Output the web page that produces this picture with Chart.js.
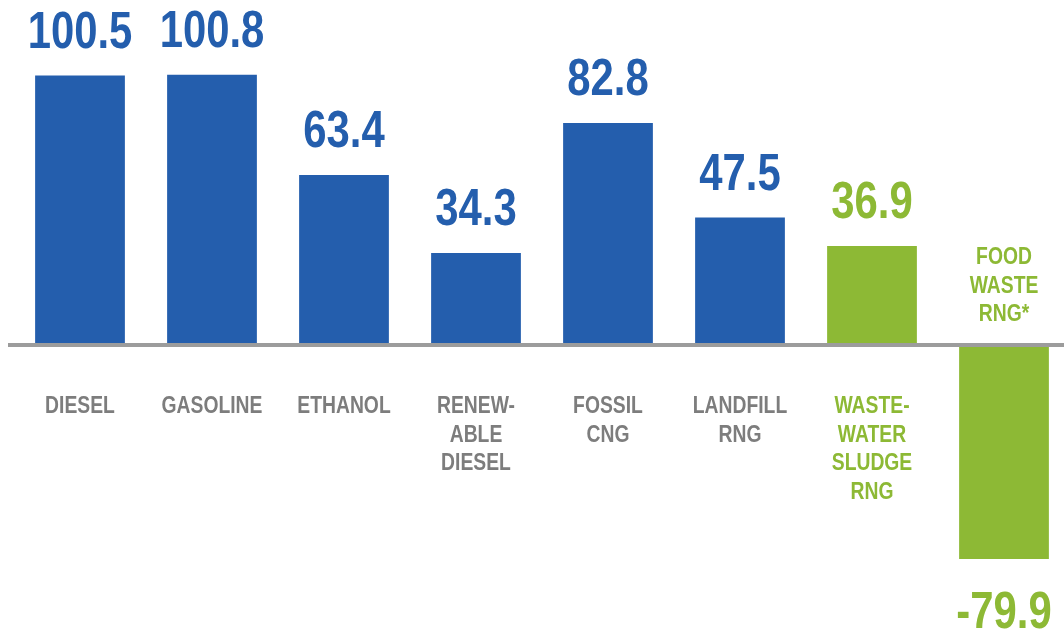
<!DOCTYPE html>
<html>
<head>
<meta charset="utf-8">
<script src="https://cdn.jsdelivr.net/npm/chart.js@4"></script>
<style>
  html, body { margin: 0; padding: 0; background: #fff; overflow: hidden; }
  #wrap { width: 1070px; height: 629px; position: relative; }
</style>
</head>
<body>
<div id="wrap"><canvas id="fuelChart"></canvas></div>
<script>
// Carbon intensity by fuel
const categories = [
    ['DIESEL'],
    ['GASOLINE'],
    ['ETHANOL'],
    ['RENEW-', 'ABLE', 'DIESEL'],
    ['FOSSIL', 'CNG'],
    ['LANDFILL', 'RNG'],
    ['WASTE-', 'WATER', 'SLUDGE', 'RNG'],
    ['FOOD', 'WASTE', 'RNG*'],
];
const values = [100.5, 100.8, 63.4, 34.3, 82.8, 47.5, 36.9, -79.9];
const wasteFuel = [false, false, false, false, false, false, true, true];

const BLUE = '#245EAD';
const GREEN = '#8DB935';
const GREY = '#7d7d7d';
const colorFor = i => (wasteFuel[i] ? GREEN : BLUE);

// no narrow face installed, so squeeze the regular bold one
function narrowText(ctx, text, x, y, squeeze) {
    ctx.save();
    ctx.translate(x, y);
    ctx.scale(squeeze, 1);
    ctx.fillText(text, 0, 0);
    ctx.restore();
}

const labelsPlugin = {
    id: 'labels',
    afterDatasetsDraw(chart) {
        const ctx = chart.ctx;
        const x = chart.scales.x;
        const y = chart.scales.y;
        const zero = y.getPixelForValue(0);
        const meta = chart.getDatasetMeta(0);

        ctx.save();
        // baseline
        ctx.strokeStyle = '#9c9c9c';
        ctx.lineWidth = 4;
        ctx.beginPath();
        ctx.moveTo(chart.chartArea.left - 6, zero);
        ctx.lineTo(chart.width, zero);
        ctx.stroke();

        ctx.textAlign = 'center';
        meta.data.forEach((bar, i) => {
            const v = values[i];
            const cx = x.getPixelForValue(i);
            // value label
            ctx.font = 'bold 51px "Liberation Sans", Arial, sans-serif';
            ctx.fillStyle = colorFor(i);
            if (v >= 0) {
                ctx.textBaseline = 'alphabetic';
                narrowText(ctx, v.toFixed(1), cx, bar.y - 28, 0.82);
            } else {
                ctx.textBaseline = 'top';
                narrowText(ctx, v.toFixed(1), cx, bar.y + 29, 0.82);
            }
            // category label
            ctx.font = 'bold 23px "Liberation Sans", Arial, sans-serif';
            ctx.fillStyle = wasteFuel[i] ? GREEN : GREY;
            ctx.textBaseline = 'middle';
            const lines = categories[i];
            const lh = 28.5;
            if (v >= 0) {
                lines.forEach((t, k) => narrowText(ctx, t, cx, zero + 62 + k * lh, 0.84));
            } else {
                lines.forEach((t, k) => narrowText(ctx, t, cx, zero - 30 - (lines.length - 1 - k) * lh, 0.84));
            }
        });
        ctx.restore();
    },
};

new Chart(document.querySelector('#fuelChart'), {
    type: 'bar',
    data: {
        labels: categories.map(c => c.join(' ')),
        datasets: [{
            data: values,
            backgroundColor: values.map((v, i) => colorFor(i)),
            borderWidth: 0,
            barPercentage: 0.68,
            categoryPercentage: 1,
        }],
    },
    options: {
        responsive: true,
        maintainAspectRatio: false,
        animation: false,
        layout: { padding: { left: 14, right: 0, top: 0, bottom: 0 } },
        plugins: { legend: { display: false }, tooltip: { enabled: false } },
        scales: {
            x: { display: false },
            y: { display: false, min: -106, max: 128.7 },
        },
    },
    plugins: [labelsPlugin],
});
</script>
</body>
</html>
